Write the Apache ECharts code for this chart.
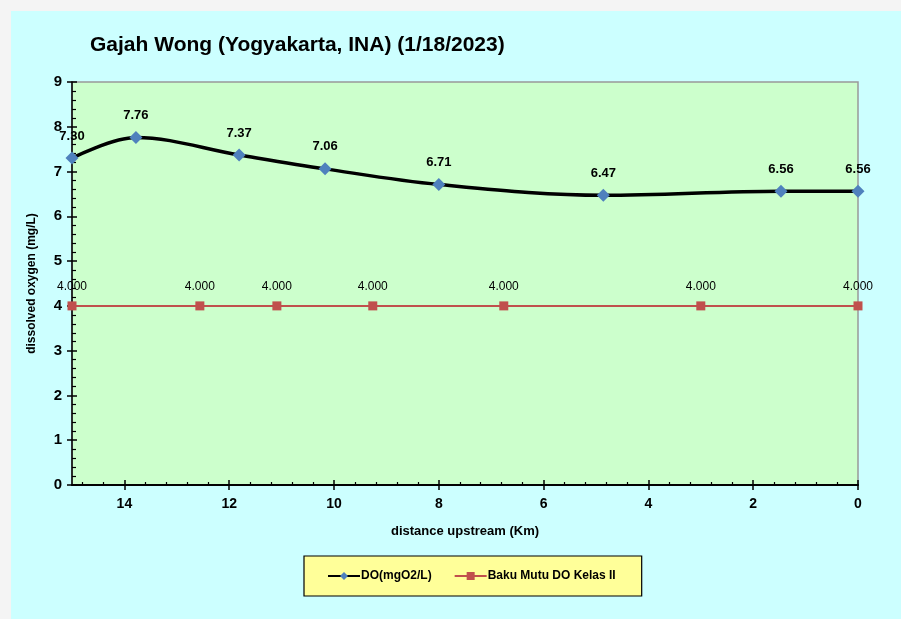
<!DOCTYPE html>
<html>
<head>
<meta charset="utf-8">
<script src="https://cdn.jsdelivr.net/npm/echarts@6/dist/echarts.min.js"></script>
<style>
  html, body { margin: 0; padding: 0; background: #f4f4f4; }
  #chart { width: 901px; height: 619px; }
</style>
</head>
<body>
<div id="chart"></div>
<script>
// Dissolved oxygen along the Gajah Wong river, distance upstream in km
const doDistance = [15, 13.78, 11.81, 10.17, 8.0, 4.86, 1.47, 0];
const doValues = [7.30, 7.76, 7.37, 7.06, 6.71, 6.47, 6.56, 6.56];

// Class II water quality standard for DO
const stdDistance = [15, 12.56, 11.09, 9.26, 6.76, 3.0, 0];
const stdValues = [4.0, 4.0, 4.0, 4.0, 4.0, 4.0, 4.0];

const xTickLabels = [0, 2, 4, 6, 8, 10, 12, 14];
const xMinorTicks = [];
for (let i = 1; i * 0.4 < 15; i++) {
  const v = Math.round(i * 0.4 * 10) / 10;
  if (Math.abs(v / 2 - Math.round(v / 2)) > 1e-6) xMinorTicks.push(v);
}

const FONT = '"Liberation Sans Narrow", "Liberation Sans", Arial, sans-serif';

const chart = echarts.init(document.getElementById('chart'), null, { renderer: 'canvas' });

const gridBox = { left: 72, right: 43, top: 82, bottom: 134 };

const baseX = {
  type: 'value', min: 0, max: 15, inverse: true, gridIndex: 0, position: 'bottom',
  splitLine: { show: false },
  axisLine: { show: true, onZero: false, lineStyle: { color: '#000', width: 1.5 } }
};

const option = {
  backgroundColor: 'transparent',
  animation: false,
  graphic: [{
    type: 'rect', z: -10, silent: true,
    shape: { x: 11, y: 11, width: 890, height: 608 },
    style: { fill: '#ccffff' }
  }],
  title: {
    text: 'Gajah Wong (Yogyakarta, INA) (1/18/2023)',
    left: 90, top: 35, padding: 0,
    textStyle: { fontFamily: FONT, fontWeight: 'bold', fontSize: 21, color: '#000' }
  },
  legend: {
    left: 304, top: 556,
    padding: [14, 26, 14, 23],
    backgroundColor: '#ffff99',
    borderColor: '#000', borderWidth: 1.2, borderRadius: 0,
    itemWidth: 32, itemHeight: 10, itemGap: 22,
    textStyle: { fontFamily: FONT, fontWeight: 'bold', fontSize: 12, color: '#000', padding: [0, 0, 0, -4] },
    data: ['DO(mgO2/L)', 'Baku Mutu DO Kelas II']
  },
  grid: Object.assign({
    show: true, backgroundColor: '#ccffcc', borderColor: '#999', borderWidth: 1.5
  }, gridBox),
  xAxis: [
    Object.assign({}, baseX, {
      name: 'distance upstream (Km)', nameLocation: 'middle', nameGap: 40,
      nameTextStyle: { fontFamily: FONT, fontWeight: 'bold', fontSize: 13, color: '#000' },
      axisTick: { show: true, inside: false, length: 5, customValues: xTickLabels, lineStyle: { color: '#000', width: 1.5 } },
      axisLabel: { show: true, margin: 12, customValues: xTickLabels, fontFamily: FONT, fontWeight: 'bold', fontSize: 14, color: '#000' }
    }),
    Object.assign({}, baseX, {
      axisTick: { show: true, inside: true, length: 5, customValues: xTickLabels, lineStyle: { color: '#000', width: 1.5 } },
      axisLabel: { show: false }
    }),
    Object.assign({}, baseX, {
      axisTick: { show: true, inside: true, length: 3, customValues: xMinorTicks, lineStyle: { color: '#000', width: 1.2 } },
      axisLabel: { show: false }
    })
  ],
  yAxis: [
    {
      type: 'value', min: 0, max: 9, interval: 1, position: 'left',
      name: 'dissolved oxygen (mg/L)', nameLocation: 'middle', nameGap: 34, nameRotate: 90,
      nameTextStyle: { fontFamily: FONT, fontWeight: 'bold', fontSize: 12, color: '#000' },
      splitLine: { show: false },
      axisLine: { show: true, onZero: false, lineStyle: { color: '#000', width: 1.5 } },
      axisTick: { show: true, inside: false, length: 5, lineStyle: { color: '#000', width: 1.5 } },
      axisLabel: { margin: 10, fontFamily: FONT, fontWeight: 'bold', fontSize: 15, color: '#000' }
    },
    {
      type: 'value', min: 0, max: 9, interval: 1, position: 'left', offset: 0,
      splitLine: { show: false },
      axisLine: { show: false, onZero: false },
      axisTick: { show: true, inside: true, length: 5, lineStyle: { color: '#000', width: 1.5 } },
      minorTick: { show: true, splitNumber: 5, length: 4, lineStyle: { color: '#000', width: 1.2 } },
      axisLabel: { show: false }
    }
  ],
  series: [
    {
      name: 'Baku Mutu DO Kelas II',
      type: 'line',
      data: stdDistance.map((d, i) => [d, stdValues[i]]),
      symbol: 'rect', symbolSize: 9,
      itemStyle: { color: '#c0504d' },
      lineStyle: { color: '#c0504d', width: 2 },
      label: {
        show: true, position: 'top', distance: 9,
        formatter: p => p.value[1].toFixed(3),
        fontFamily: FONT, fontSize: 12, color: '#000'
      },
      z: 3
    },
    {
      name: 'DO(mgO2/L)',
      type: 'line',
      data: doDistance.map((d, i) => [d, doValues[i]]),
      smooth: 0.35,
      symbol: 'diamond', symbolSize: 13,
      itemStyle: { color: '#4f81bd' },
      lineStyle: { color: '#000', width: 3.5 },
      label: {
        show: true, position: 'top', distance: 9,
        formatter: p => p.value[1].toFixed(2),
        fontFamily: FONT, fontWeight: 'bold', fontSize: 13, color: '#000'
      },
      z: 4
    }
  ]
};

chart.setOption(option);
</script>
</body>
</html>
